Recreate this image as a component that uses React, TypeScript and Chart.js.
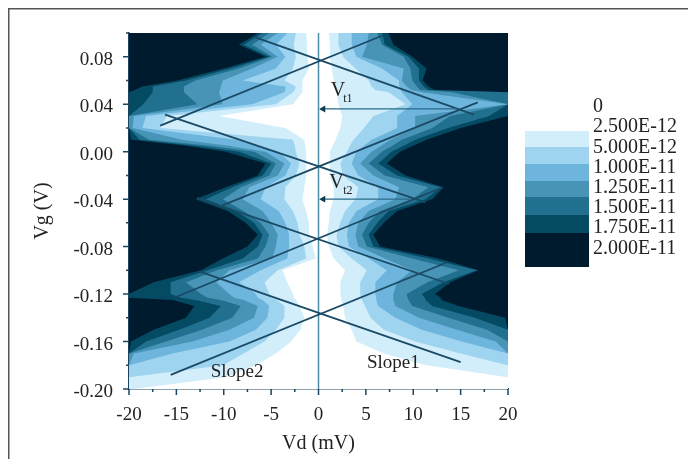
import React, { useEffect, useRef } from "react";
import { Chart, registerables } from "chart.js";

Chart.register(...registerables);

const vgRows = [0.1,0.09,0.08,0.07,0.06,0.055,0.052,0.05,0.04,0.03,0.02,0.01,0.005,0,-0.01,-0.02,-0.03,-0.04,-0.05,-0.06,-0.07,-0.08,-0.09,-0.1,-0.11,-0.12,-0.123,-0.125,-0.13,-0.14,-0.15,-0.16,-0.17,-0.18,-0.19,-0.2];

// Vd (mV) where each contour level begins on the negative side, per Vg row: 1.75E-11 ... 0
const leftEdges = [
  [-6.4,-5.9,-5.2,-4.3,-3.3,-2.4,-1.3],
  [-8.4,-7.9,-7,-6.1,-4.5,-2.6,-1.2],
  [-5.6,-5.2,-4.9,-4.3,-3.5,-2.4,-1.2],
  [-10,-9.3,-8.4,-7,-4.5,-2.7,-1],
  [-14.9,-14,-13,-10.1,-8,-3.6,-1.7],
  [-18.6,-17.5,-14.2,-10.3,-3.5,-2.4,-1.7],
  [-19.4,-17.5,-14.2,-10.4,-3.5,-2.5,-1.7],
  [-20,-17.5,-14.2,-10.5,-3.6,-2.7,-1.7],
  [-20,-18.5,-12.8,-10.1,-7,-4.5,-2.7],
  [-20,-20,-20,-19.5,-18.2,-16,-10.5],
  [-20,-20,-20,-19.6,-18.6,-16.7,-3.5],
  [-19.8,-18.9,-17.9,-14.4,-8.7,-2.7,-1.5],
  [-14,-13,-11.5,-9.5,-6.5,-2.5,-1.4],
  [-9.8,-8.4,-6.8,-5.6,-4.2,-2.4,-1.3],
  [-5.6,-5,-4.5,-3.6,-2.9,-2,-1.3],
  [-6.4,-5.9,-5.2,-4.3,-3.5,-2.4,-1.3],
  [-9.8,-9.1,-8.2,-7.3,-5.6,-3.5,-1.5],
  [-13,-11.9,-10.1,-8,-6.1,-3.6,-1.7],
  [-9.6,-8.7,-7.9,-5.9,-4.2,-2.7,-1.3],
  [-7.7,-6.8,-6.1,-5,-3.5,-2.2,-1],
  [-6.4,-5.9,-5.2,-4.3,-3.1,-2,-1],
  [-7.5,-6.4,-5.6,-4.5,-3.1,-1.5,-0.6],
  [-10.1,-8,-6.4,-4.9,-3.3,-1.3,-0.3],
  [-12.4,-11.7,-10.7,-9.4,-6.1,-4.3,-3.8],
  [-17.4,-15.6,-14,-10.8,-8.4,-5.7,-3.3],
  [-20,-15.6,-12.4,-9.4,-6.6,-5.2,-2.7],
  [-20,-14.5,-11.7,-8.9,-6.4,-5,-2.6],
  [-15.4,-13,-10.3,-7.9,-5.9,-4.4,-2.35],
  [-13.1,-10.3,-8.2,-6.4,-5.2,-3.6,-2],
  [-14,-11.5,-9.1,-6.8,-5.4,-3.6,-1.5],
  [-17.4,-14.7,-12.3,-9.4,-6.6,-4.5,-1.9],
  [-19.8,-18.2,-16.1,-13.3,-9.4,-5.7,-2.9],
  [-20,-20,-20,-19.5,-15.4,-7.9,-4.5],
  [-20,-20,-20,-20,-20,-10.1,-6.6],
  [-20,-20,-20,-20,-20,-20,-9.8],
  [-20,-20,-20,-20,-20,-20,-19.5],
];

// Vd (mV) where each contour level ends on the positive side, per Vg row: 1.75E-11 ... 0
const rightEdges = [
  [7.4,6.7,6.2,5.3,3.5,2.1,1.1],
  [7.9,7,6.7,5.1,3.5,2.1,1.2],
  [9.9,9.5,9,4.6,4,2.6,1.2],
  [11.4,10.6,9.7,9,6.7,3.9,1.4],
  [11,10.6,9.9,8.8,8.5,5.3,1.6],
  [11.6,11.1,10.4,9.3,8.6,5.6,1.8],
  [12.3,11.6,10.7,9.8,8.7,6,1.8],
  [20,20,14.1,10.9,8.8,7.4,1.9],
  [20,20,20,20,9.9,9.2,2.1],
  [20,18,13.9,10.2,8.3,5.8,2.5],
  [15,13.7,12,10.2,8.3,4.8,2.3],
  [11.4,10.2,8.8,7.6,5.6,3.7,1.8],
  [10,9,7.8,6.6,4.8,3.3,1.5],
  [8.6,7.7,6.7,5.6,4,3,1.2],
  [7.2,6.3,5.3,4.4,3.5,2.3,1.2],
  [9.2,8.3,7,5.8,4.2,2.6,1.2],
  [13.2,12.9,11.6,8.5,6.3,4.2,1.6],
  [12,11.3,9.9,8.1,6.3,3.9,1.6],
  [8.3,7.4,6.5,5.3,4,2.8,1.2],
  [6.9,6.2,5.3,4.2,3.2,2.3,1.1],
  [5.8,5.3,4.6,3.9,3,1.9,0.9],
  [6.5,5.8,5.1,4.2,3.2,2.1,1.1],
  [12.7,11.6,9.9,7,5.3,3.5,1.6],
  [16.9,16.7,14.8,9.9,7.2,5.1,2.8],
  [13.9,13.2,11.5,8.3,6,4.4,2.3],
  [12.3,10.9,9.3,7.9,6,4.4,2.3],
  [12.9,11.2,9.4,7.9,6.1,4.5,2.4],
  [13,11.3,9.5,7.9,6.1,4.6,2.4],
  [14.8,12,9.9,8.1,6.3,4.9,2.6],
  [19.7,16.5,13.7,10.6,8.1,5.5,2.8],
  [20,20,17.8,14.6,10.9,6.9,3.5],
  [20,20,20,18.7,15.1,10.2,4],
  [20,20,20,20,20,15,6.9],
  [20,20,20,20,20,20,11.4],
  [20,20,20,20,20,20,20],
  [20,20,20,20,20,20,20],
];

const levelColors = ["#044a63","#21708f","#4894b7","#6db5dc","#9fd4f0","#d3eefb","#ffffff"];
const baseColor = "#001a2e";
const legendLabels = ["0","2.500E-12","5.000E-12","1.000E-11","1.250E-11","1.500E-11","1.750E-11","2.000E-11"];
const legendColors = ["#d3eefb","#9fd4f0","#6db5dc","#4894b7","#21708f","#044a63","#001a2e"];

// Straight guide lines: [Vd1, Vg1, Vd2, Vg2]
const slopeLines = [
  [-6.65,0.0963,16.4,0.0312],
  [-16.7,0.0219,6.7,0.0977],
  [-16.2,0.0312,11.3,-0.0427],
  [16.8,0.0415,-10.2,-0.0455],
  [-12.8,-0.039,13.8,-0.1115],
  [13.1,-0.03,-15.1,-0.1227],
  [-12.6,-0.1008,15,-0.1774],
  [13.6,-0.0932,-15.6,-0.1881],
];
const arrows = [
  [14.6,0.036,0.5,0.036],
  [9.7,-0.04,0.5,-0.04],
];
const annotations: [string, number, number, number][] = [
  ["V",2.05,0.051,20],
  ["t1",3.1,0.0446,12],
  ["V",1.9,-0.026,20],
  ["t2",3.1,-0.0328,12],
  ["Slope1",7.9,-0.1785,19],
  ["Slope2",-8.6,-0.1853,19],
];

const serif = "'Liberation Serif'";

const overlay = {
  id: "overlay",
  afterDraw(chart: any) {
    const { ctx, scales } = chart;
    const { x, y } = scales;
    ctx.save();
    ctx.fillStyle = "#555";
    ctx.fillRect(8, 8, 680, 1.5);
    ctx.fillRect(8, 8, 1.5, 451);
    // axis tick marks, long at labelled values
    ctx.strokeStyle = "#1c4560";
    ctx.lineWidth = 1.5;
    ctx.beginPath();
    for (const t of y.ticks) {
      const p = y.getPixelForValue(t.value);
      const major = Math.round(t.value * 100) % 4 === 0;
      ctx.moveTo(x.left, p);
      ctx.lineTo(x.left - (major ? 6 : 3), p);
    }
    for (const t of x.ticks) {
      const p = x.getPixelForValue(t.value);
      const major = Math.round(t.value * 10) % 50 === 0;
      ctx.moveTo(p, y.bottom);
      ctx.lineTo(p, y.bottom + (major ? 6 : 3));
    }
    ctx.stroke();
    // legend colour bar
    const edges = [131, 147, 164, 181, 197, 215, 233, 267];
    legendColors.forEach((c, i) => {
      ctx.fillStyle = c;
      ctx.fillRect(525, edges[i], 64, edges[i + 1] - edges[i]);
    });
    ctx.fillStyle = "#222";
    ctx.textBaseline = "middle";
    ctx.textAlign = "left";
    ctx.font = `20px ${serif}`;
    legendLabels.forEach((l, i) => ctx.fillText(l, 593, 107 + 20.2 * i));
    ctx.textAlign = "center";
    for (const [text, vd, vg, size] of annotations) {
      ctx.font = `${size}px ${serif}`;
      ctx.fillText(text, x.getPixelForValue(vd), y.getPixelForValue(vg));
    }
    ctx.restore();
  },
};

function polygon(level: number) {
  const left = vgRows.map((vg, i) => ({ x: leftEdges[i][level], y: vg }));
  const right = vgRows.map((vg, i) => ({ x: rightEdges[i][level], y: vg })).reverse();
  return [...left, ...right];
}

export default function App() {
  const ref = useRef<HTMLCanvasElement>(null);
  useEffect(() => {
    const lineDatasets = slopeLines.map((l) => ({
      data: [{ x: l[0], y: l[1] }, { x: l[2], y: l[3] }],
      showLine: true, borderColor: "#1a4a66", borderWidth: 1.8, pointRadius: 0, fill: false,
    }));
    const arrowDatasets = arrows.map((a) => ({
      data: [{ x: a[0], y: a[1] }, { x: a[2], y: a[3] }],
      showLine: true, borderColor: "#2a6a88", borderWidth: 1.3, fill: false,
      pointRadius: [0, 4], pointStyle: "triangle", pointRotation: -90,
      pointBackgroundColor: "#0d3a50", pointBorderWidth: 0,
    }));
    const axisLine = {
      data: [{ x: 0, y: -0.2 }, { x: 0, y: 0.1 }],
      showLine: true, borderColor: "#4a8ba5", borderWidth: 1.5, pointRadius: 0, fill: false,
    };
    const bands = levelColors.map((c, i) => ({
      data: polygon(i), showLine: true, fill: "shape", backgroundColor: c,
      borderWidth: 0, borderColor: "transparent", pointRadius: 0, tension: 0,
    })).reverse();
    const base = {
      data: [{ x: -20, y: 0.1 }, { x: -20, y: -0.2 }, { x: 20, y: -0.2 }, { x: 20, y: 0.1 }],
      showLine: true, fill: "shape", backgroundColor: baseColor,
      borderWidth: 0, borderColor: "transparent", pointRadius: 0,
    };
    const chart = new Chart(ref.current!, {
      type: "scatter",
      data: { datasets: [...arrowDatasets, ...lineDatasets, axisLine, ...bands, base] as any },
      options: {
        animation: false,
        responsive: false,
        layout: { padding: { top: 33, right: 180, left: 0, bottom: 0 } },
        plugins: { legend: { display: false }, tooltip: { enabled: false } },
        scales: {
          x: {
            type: "linear", min: -20, max: 20,
            afterFit: (s: any) => { s.height = 70; },
            grid: { drawOnChartArea: false, drawTicks: false },
            border: { display: true, color: "#1c4560", width: 1.5 },
            ticks: {
              stepSize: 2.5, autoSkip: false, maxRotation: 0, padding: 15, color: "#222",
              font: { family: serif, size: 19 },
              callback: (v: any) => (Math.round(v * 10) % 50 === 0 ? String(v) : ""),
            },
            title: { display: true, text: "Vd (mV)", color: "#222", font: { family: serif, size: 20 }, padding: { top: 0, bottom: 3 } },
          },
          y: {
            type: "linear", min: -0.2, max: 0.1,
            afterFit: (s: any) => { s.width = 129; },
            grid: { drawOnChartArea: false, drawTicks: false },
            border: { display: true, color: "#1c4560", width: 1.5 },
            ticks: {
              stepSize: 0.02, autoSkip: false, padding: 16, color: "#222", labelOffset: 3,
              font: { family: serif, size: 19 },
              callback: (v: any) => (Math.round(v * 100) % 4 === 0 ? Number(v).toFixed(2) : ""),
            },
            title: { display: true, text: "Vg (V)", color: "#222", font: { family: serif, size: 20 }, padding: { top: 31, bottom: 0 } },
          },
        },
      },
      plugins: [overlay],
    });
    return () => chart.destroy();
  }, []);
  return (
    <div style={{ position: "absolute", left: 0, top: 0, width: 688, height: 459, background: "#fff" }}>
      <canvas ref={ref} width={688} height={459} style={{ display: "block" }} />
    </div>
  );
}
